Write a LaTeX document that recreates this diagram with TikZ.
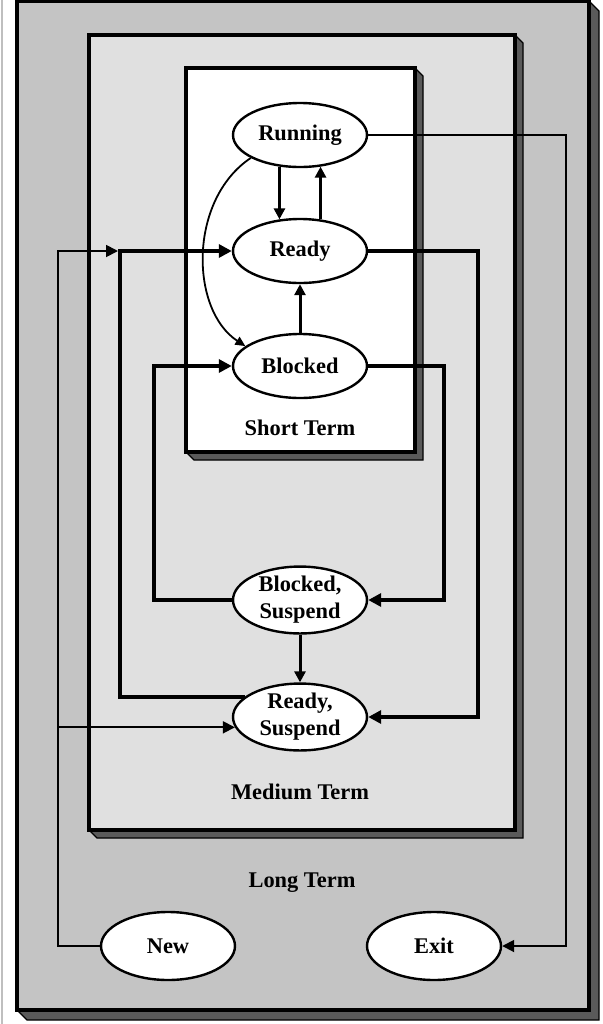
\documentclass[tikz,border=0pt]{standalone}
\usepackage{fontspec}
\setmainfont{Liberation Serif}
\usetikzlibrary{shapes.geometric,arrows.meta}
\definecolor{longgray}{HTML}{C4C4C4}
\definecolor{midgray}{HTML}{E0E0E0}
\definecolor{shadowgray}{HTML}{5A5A5A}

\begin{document}
\begin{tikzpicture}[x=0.5pt, y=-0.5pt, font=\bfseries\fontsize{11.2}{13.5}\selectfont,
  state/.style={ellipse, draw=black, line width=1.2pt, fill=white, minimum width=67pt, minimum height=32pt, inner sep=0pt, align=center},
  thinlink/.style={line width=0.9pt, -{Triangle[length=6pt, width=6pt]}},
  midlink/.style={line width=1.5pt, -{Triangle[length=5.5pt, width=5.5pt]}},
  boldlink/.style={line width=1.9pt, -{Triangle[length=6.5pt, width=6.5pt]}}]
\useasboundingbox (0,0) rectangle (602,1024);
\draw[black!25, line width=1pt] (2,0) -- (2,1024);

% long term box
\filldraw[fill=shadowgray, line width=0.6pt] (589,1) -- (599,11) -- (599,1020) -- (27,1020) -- (17,1010) -- cycle;
\filldraw[fill=longgray, line width=2pt] (17,1) rectangle (589,1010);
% medium term box
\filldraw[fill=shadowgray, line width=0.6pt] (515,35) -- (523,43) -- (523,838) -- (97,838) -- (89,830) -- cycle;
\filldraw[fill=midgray, line width=2pt] (89,35) rectangle (515,830);
% short term box
\filldraw[fill=shadowgray, line width=0.6pt] (415,68) -- (423,76) -- (423,460) -- (194,460) -- (186,452) -- cycle;
\filldraw[fill=white, line width=2pt] (186,68) rectangle (415,452);

\node (short) at (300,428) {Short Term};
\node (medium) at (300,792) {Medium Term};
\node (long) at (302,883) {Long Term};

\node[state] (Running) at (300,135) {Running};
\node[state] (Ready) at (300,251) {Ready};
\node[state] (Blocked) at (300,366) {Blocked};
\node[state] (BlockedSusp) at (300,600) {Blocked,\\Suspend};
\node[state] (ReadySusp) at (300,717) {Ready,\\Suspend};
\node[state, minimum height=34pt] (New) at (168,946) {New};
\node[state, minimum height=34pt] (Exit) at (434,946) {Exit};

\coordinate (join) at (120,251);
\coordinate (newbend) at (58,946);

\draw[midlink] (Running.237) -- (Ready.123);
\draw[midlink] (Ready.57) -- (Running.303);
\draw[midlink] (Blocked.north) -- (Ready.south);
\draw[midlink] (BlockedSusp.south) -- (ReadySusp.north);
\draw[line width=0.9pt, -{Triangle[length=5pt, width=4.5pt]}] (Running.205) .. controls (188,200) and (190,310) .. (Blocked.160);

\draw[thinlink] (Running.east) -- ++(198,0) |- (Exit.east);
\draw[thinlink, shorten >=1pt] (New.west) -- (newbend) |- (join);
\draw[thinlink] (newbend |- ReadySusp.189) -- (ReadySusp.189);

\draw[boldlink] (ReadySusp.160) -| (join) -- (Ready.west);
\draw[boldlink] (Ready.east) -- ++(110,0) |- (ReadySusp.east);
\draw[boldlink, line width=2.2pt] (Blocked.east) -- ++(76,0) |- (BlockedSusp.east);
\draw[boldlink] (BlockedSusp.west) -- ++(-78,0) |- (Blocked.west);
\end{tikzpicture}
\end{document}
